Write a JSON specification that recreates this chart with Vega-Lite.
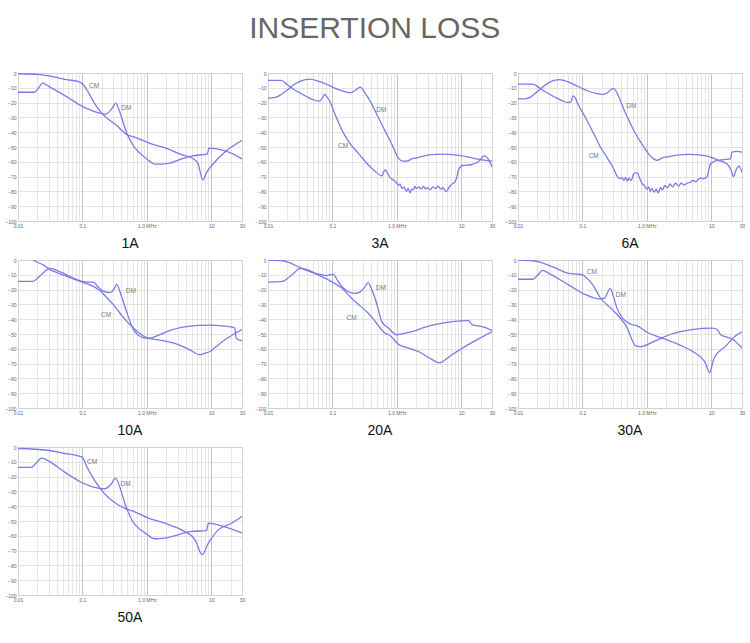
{
"$schema": "https://vega.github.io/schema/vega-lite/v6.json",
"background": "white",
"padding": {"left": 4, "top": 13, "right": 5, "bottom": 5},
"title": {"text": "INSERTION LOSS", "fontSize": 30, "font": "Liberation Sans", "fontWeight": "normal", "color": "#666", "anchor": "middle", "offset": 27},
"config": {"view": {"stroke": "#aaa", "strokeWidth": 1}},
"data": {"values": [
{"p":"1A","s":"CM","f":0.01,"d":-0.5},{"p":"1A","s":"CM","f":0.0216,"d":-1.1},{"p":"1A","s":"CM","f":0.035,"d":-2.5},{"p":"1A","s":"CM","f":0.056,"d":-4.5},{"p":"1A","s":"CM","f":0.085,"d":-5.6},{"p":"1A","s":"CM","f":0.101,"d":-7.4},{"p":"1A","s":"CM","f":0.121,"d":-12.4},{"p":"1A","s":"CM","f":0.153,"d":-20.3},{"p":"1A","s":"CM","f":0.206,"d":-27.8},{"p":"1A","s":"CM","f":0.33,"d":-35},{"p":"1A","s":"CM","f":0.5,"d":-41.8},{"p":"1A","s":"CM","f":0.68,"d":-43.6},{"p":"1A","s":"CM","f":1.09,"d":-47.4},{"p":"1A","s":"CM","f":1.97,"d":-50.8},{"p":"1A","s":"CM","f":3.55,"d":-55.3},{"p":"1A","s":"CM","f":5.1,"d":-57.6},{"p":"1A","s":"CM","f":6.2,"d":-61},{"p":"1A","s":"CM","f":7.4,"d":-72.2},{"p":"1A","s":"CM","f":8.5,"d":-67},{"p":"1A","s":"CM","f":10.4,"d":-62},{"p":"1A","s":"CM","f":16.6,"d":-53},{"p":"1A","s":"CM","f":30,"d":-45.6},
{"p":"1A","s":"DM","f":0.01,"d":-13},{"p":"1A","s":"DM","f":0.018,"d":-13},{"p":"1A","s":"DM","f":0.021,"d":-10},{"p":"1A","s":"DM","f":0.024,"d":-6.8},{"p":"1A","s":"DM","f":0.03,"d":-9},{"p":"1A","s":"DM","f":0.056,"d":-15.8},{"p":"1A","s":"DM","f":0.1,"d":-22.6},{"p":"1A","s":"DM","f":0.18,"d":-27},{"p":"1A","s":"DM","f":0.23,"d":-27.8},{"p":"1A","s":"DM","f":0.29,"d":-23.7},{"p":"1A","s":"DM","f":0.33,"d":-20.3},{"p":"1A","s":"DM","f":0.37,"d":-25},{"p":"1A","s":"DM","f":0.5,"d":-41.8},{"p":"1A","s":"DM","f":0.63,"d":-49.7},{"p":"1A","s":"DM","f":0.97,"d":-57.6},{"p":"1A","s":"DM","f":1.38,"d":-61.6},{"p":"1A","s":"DM","f":2.2,"d":-61},{"p":"1A","s":"DM","f":3.36,"d":-58.2},{"p":"1A","s":"DM","f":5.1,"d":-56},{"p":"1A","s":"DM","f":8.7,"d":-54.6},{"p":"1A","s":"DM","f":9.2,"d":-50.8},{"p":"1A","s":"DM","f":16.6,"d":-52.6},{"p":"1A","s":"DM","f":30,"d":-58},
{"p":"3A","s":"DM","f":0.01,"d":-17},{"p":"3A","s":"DM","f":0.013,"d":-16.5},{"p":"3A","s":"DM","f":0.016,"d":-14.5},{"p":"3A","s":"DM","f":0.02,"d":-11.5},{"p":"3A","s":"DM","f":0.025,"d":-8},{"p":"3A","s":"DM","f":0.03,"d":-6},{"p":"3A","s":"DM","f":0.044,"d":-4.2},{"p":"3A","s":"DM","f":0.06,"d":-5.5},{"p":"3A","s":"DM","f":0.08,"d":-7.5},{"p":"3A","s":"DM","f":0.1,"d":-9.5},{"p":"3A","s":"DM","f":0.13,"d":-11.5},{"p":"3A","s":"DM","f":0.19,"d":-13.4},{"p":"3A","s":"DM","f":0.23,"d":-11.5},{"p":"3A","s":"DM","f":0.27,"d":-9.5},{"p":"3A","s":"DM","f":0.32,"d":-13.5},{"p":"3A","s":"DM","f":0.39,"d":-19.5},{"p":"3A","s":"DM","f":0.49,"d":-28},{"p":"3A","s":"DM","f":0.62,"d":-37},{"p":"3A","s":"DM","f":0.79,"d":-46},{"p":"3A","s":"DM","f":0.94,"d":-53},{"p":"3A","s":"DM","f":1.05,"d":-57.5},{"p":"3A","s":"DM","f":1.25,"d":-59.5},{"p":"3A","s":"DM","f":1.45,"d":-59.5},{"p":"3A","s":"DM","f":1.7,"d":-58},{"p":"3A","s":"DM","f":2.2,"d":-57},{"p":"3A","s":"DM","f":3,"d":-55.5},{"p":"3A","s":"DM","f":5,"d":-54.8},{"p":"3A","s":"DM","f":8,"d":-55.3},{"p":"3A","s":"DM","f":12,"d":-56.5},{"p":"3A","s":"DM","f":20,"d":-58.5},{"p":"3A","s":"DM","f":30,"d":-59.5},
{"p":"3A","s":"CM","f":0.01,"d":-5},{"p":"3A","s":"CM","f":0.016,"d":-5},{"p":"3A","s":"CM","f":0.02,"d":-8},{"p":"3A","s":"CM","f":0.025,"d":-11},{"p":"3A","s":"CM","f":0.03,"d":-13},{"p":"3A","s":"CM","f":0.04,"d":-16},{"p":"3A","s":"CM","f":0.05,"d":-18},{"p":"3A","s":"CM","f":0.062,"d":-19},{"p":"3A","s":"CM","f":0.07,"d":-17},{"p":"3A","s":"CM","f":0.076,"d":-14.5},{"p":"3A","s":"CM","f":0.082,"d":-16},{"p":"3A","s":"CM","f":0.094,"d":-20.5},{"p":"3A","s":"CM","f":0.11,"d":-28},{"p":"3A","s":"CM","f":0.135,"d":-37},{"p":"3A","s":"CM","f":0.16,"d":-43},{"p":"3A","s":"CM","f":0.19,"d":-48},{"p":"3A","s":"CM","f":0.25,"d":-54},{"p":"3A","s":"CM","f":0.35,"d":-61.5},{"p":"3A","s":"CM","f":0.45,"d":-66},{"p":"3A","s":"CM","f":0.59,"d":-69.5},{"p":"3A","s":"CM","f":0.63,"d":-66.5},{"p":"3A","s":"CM","f":0.66,"d":-65.5},{"p":"3A","s":"CM","f":0.7,"d":-67},{"p":"3A","s":"CM","f":0.78,"d":-70.5},{"p":"3A","s":"CM","f":0.89,"d":-72.5},{"p":"3A","s":"CM","f":1.0,"d":-74.5},{"p":"3A","s":"CM","f":1.06,"d":-76},{"p":"3A","s":"CM","f":1.12,"d":-75},{"p":"3A","s":"CM","f":1.2,"d":-78},{"p":"3A","s":"CM","f":1.3,"d":-77},{"p":"3A","s":"CM","f":1.4,"d":-80},{"p":"3A","s":"CM","f":1.5,"d":-78},{"p":"3A","s":"CM","f":1.6,"d":-81},{"p":"3A","s":"CM","f":1.7,"d":-78.5},{"p":"3A","s":"CM","f":1.8,"d":-79},{"p":"3A","s":"CM","f":1.9,"d":-76.5},{"p":"3A","s":"CM","f":2.0,"d":-78},{"p":"3A","s":"CM","f":2.2,"d":-77},{"p":"3A","s":"CM","f":2.4,"d":-78.5},{"p":"3A","s":"CM","f":2.6,"d":-76.5},{"p":"3A","s":"CM","f":2.8,"d":-78.5},{"p":"3A","s":"CM","f":3.0,"d":-77.5},{"p":"3A","s":"CM","f":3.3,"d":-79},{"p":"3A","s":"CM","f":3.6,"d":-77},{"p":"3A","s":"CM","f":4.0,"d":-78},{"p":"3A","s":"CM","f":4.4,"d":-76.5},{"p":"3A","s":"CM","f":4.8,"d":-78.5},{"p":"3A","s":"CM","f":5.2,"d":-77.5},{"p":"3A","s":"CM","f":5.6,"d":-79.5},{"p":"3A","s":"CM","f":5.9,"d":-80},{"p":"3A","s":"CM","f":6.5,"d":-77},{"p":"3A","s":"CM","f":7.2,"d":-75},{"p":"3A","s":"CM","f":8.0,"d":-73.5},{"p":"3A","s":"CM","f":8.6,"d":-70},{"p":"3A","s":"CM","f":9.0,"d":-66},{"p":"3A","s":"CM","f":9.5,"d":-64},{"p":"3A","s":"CM","f":10.3,"d":-62.5},{"p":"3A","s":"CM","f":14,"d":-62},{"p":"3A","s":"CM","f":18.5,"d":-60},{"p":"3A","s":"CM","f":22.6,"d":-56},{"p":"3A","s":"CM","f":27,"d":-59},{"p":"3A","s":"CM","f":30,"d":-63.5},
{"p":"6A","s":"DM","f":0.01,"d":-17.5},{"p":"6A","s":"DM","f":0.013,"d":-17.5},{"p":"6A","s":"DM","f":0.016,"d":-16},{"p":"6A","s":"DM","f":0.02,"d":-12.5},{"p":"6A","s":"DM","f":0.025,"d":-9},{"p":"6A","s":"DM","f":0.03,"d":-6.5},{"p":"6A","s":"DM","f":0.043,"d":-4.5},{"p":"6A","s":"DM","f":0.06,"d":-6},{"p":"6A","s":"DM","f":0.08,"d":-8.5},{"p":"6A","s":"DM","f":0.1,"d":-10.5},{"p":"6A","s":"DM","f":0.13,"d":-12.5},{"p":"6A","s":"DM","f":0.17,"d":-14},{"p":"6A","s":"DM","f":0.21,"d":-14.5},{"p":"6A","s":"DM","f":0.25,"d":-13},{"p":"6A","s":"DM","f":0.28,"d":-11},{"p":"6A","s":"DM","f":0.31,"d":-10.5},{"p":"6A","s":"DM","f":0.34,"d":-13},{"p":"6A","s":"DM","f":0.44,"d":-24.5},{"p":"6A","s":"DM","f":0.63,"d":-39},{"p":"6A","s":"DM","f":0.9,"d":-50},{"p":"6A","s":"DM","f":1.1,"d":-55.5},{"p":"6A","s":"DM","f":1.28,"d":-58},{"p":"6A","s":"DM","f":1.45,"d":-59},{"p":"6A","s":"DM","f":1.7,"d":-57.5},{"p":"6A","s":"DM","f":2.2,"d":-56.5},{"p":"6A","s":"DM","f":3,"d":-55.5},{"p":"6A","s":"DM","f":4.5,"d":-55},{"p":"6A","s":"DM","f":7,"d":-55.5},{"p":"6A","s":"DM","f":10,"d":-57},{"p":"6A","s":"DM","f":13,"d":-59},{"p":"6A","s":"DM","f":17.6,"d":-61.5},{"p":"6A","s":"DM","f":20,"d":-65},{"p":"6A","s":"DM","f":22.3,"d":-70},{"p":"6A","s":"DM","f":24,"d":-66},{"p":"6A","s":"DM","f":26.8,"d":-63},{"p":"6A","s":"DM","f":30,"d":-67},
{"p":"6A","s":"CM","f":0.01,"d":-7.5},{"p":"6A","s":"CM","f":0.017,"d":-7.5},{"p":"6A","s":"CM","f":0.02,"d":-9},{"p":"6A","s":"CM","f":0.025,"d":-12},{"p":"6A","s":"CM","f":0.03,"d":-14},{"p":"6A","s":"CM","f":0.04,"d":-17},{"p":"6A","s":"CM","f":0.05,"d":-19},{"p":"6A","s":"CM","f":0.06,"d":-20},{"p":"6A","s":"CM","f":0.066,"d":-19.5},{"p":"6A","s":"CM","f":0.072,"d":-15.5},{"p":"6A","s":"CM","f":0.078,"d":-17},{"p":"6A","s":"CM","f":0.085,"d":-21},{"p":"6A","s":"CM","f":0.105,"d":-28},{"p":"6A","s":"CM","f":0.15,"d":-41},{"p":"6A","s":"CM","f":0.19,"d":-50},{"p":"6A","s":"CM","f":0.24,"d":-57},{"p":"6A","s":"CM","f":0.3,"d":-64},{"p":"6A","s":"CM","f":0.35,"d":-70},{"p":"6A","s":"CM","f":0.38,"d":-71.5},{"p":"6A","s":"CM","f":0.41,"d":-70.5},{"p":"6A","s":"CM","f":0.44,"d":-72.5},{"p":"6A","s":"CM","f":0.47,"d":-70.5},{"p":"6A","s":"CM","f":0.5,"d":-73},{"p":"6A","s":"CM","f":0.53,"d":-71},{"p":"6A","s":"CM","f":0.56,"d":-72.5},{"p":"6A","s":"CM","f":0.59,"d":-71.5},{"p":"6A","s":"CM","f":0.61,"d":-69},{"p":"6A","s":"CM","f":0.66,"d":-67.5},{"p":"6A","s":"CM","f":0.71,"d":-67.5},{"p":"6A","s":"CM","f":0.78,"d":-71.5},{"p":"6A","s":"CM","f":0.85,"d":-75},{"p":"6A","s":"CM","f":0.92,"d":-76},{"p":"6A","s":"CM","f":1.0,"d":-78.5},{"p":"6A","s":"CM","f":1.07,"d":-77},{"p":"6A","s":"CM","f":1.13,"d":-80},{"p":"6A","s":"CM","f":1.2,"d":-78},{"p":"6A","s":"CM","f":1.3,"d":-80.5},{"p":"6A","s":"CM","f":1.4,"d":-78.5},{"p":"6A","s":"CM","f":1.5,"d":-81},{"p":"6A","s":"CM","f":1.63,"d":-77.5},{"p":"6A","s":"CM","f":1.75,"d":-79},{"p":"6A","s":"CM","f":1.9,"d":-76},{"p":"6A","s":"CM","f":2.07,"d":-77.5},{"p":"6A","s":"CM","f":2.3,"d":-75},{"p":"6A","s":"CM","f":2.5,"d":-77},{"p":"6A","s":"CM","f":2.8,"d":-74.5},{"p":"6A","s":"CM","f":3.1,"d":-76.5},{"p":"6A","s":"CM","f":3.4,"d":-74.5},{"p":"6A","s":"CM","f":3.8,"d":-75.5},{"p":"6A","s":"CM","f":4.2,"d":-74.5},{"p":"6A","s":"CM","f":4.7,"d":-74},{"p":"6A","s":"CM","f":5.2,"d":-72.5},{"p":"6A","s":"CM","f":5.8,"d":-73.5},{"p":"6A","s":"CM","f":6.4,"d":-71.5},{"p":"6A","s":"CM","f":6.8,"d":-71},{"p":"6A","s":"CM","f":7.5,"d":-71.5},{"p":"6A","s":"CM","f":8.6,"d":-70},{"p":"6A","s":"CM","f":9.7,"d":-61.5},{"p":"6A","s":"CM","f":12.3,"d":-59},{"p":"6A","s":"CM","f":16,"d":-58.5},{"p":"6A","s":"CM","f":19.8,"d":-58},{"p":"6A","s":"CM","f":21,"d":-53.5},{"p":"6A","s":"CM","f":25,"d":-53},{"p":"6A","s":"CM","f":30,"d":-53.5},
{"p":"10A","s":"DM","f":0.01,"d":-14.5},{"p":"10A","s":"DM","f":0.017,"d":-14.5},{"p":"10A","s":"DM","f":0.021,"d":-11.5},{"p":"10A","s":"DM","f":0.025,"d":-8.5},{"p":"10A","s":"DM","f":0.031,"d":-5.6},{"p":"10A","s":"DM","f":0.04,"d":-7},{"p":"10A","s":"DM","f":0.057,"d":-10},{"p":"10A","s":"DM","f":0.08,"d":-13},{"p":"10A","s":"DM","f":0.1,"d":-14.5},{"p":"10A","s":"DM","f":0.125,"d":-15},{"p":"10A","s":"DM","f":0.148,"d":-15},{"p":"10A","s":"DM","f":0.17,"d":-17.5},{"p":"10A","s":"DM","f":0.21,"d":-21},{"p":"10A","s":"DM","f":0.27,"d":-22},{"p":"10A","s":"DM","f":0.31,"d":-19.5},{"p":"10A","s":"DM","f":0.34,"d":-16.5},{"p":"10A","s":"DM","f":0.4,"d":-24},{"p":"10A","s":"DM","f":0.485,"d":-35},{"p":"10A","s":"DM","f":0.62,"d":-47},{"p":"10A","s":"DM","f":0.75,"d":-51},{"p":"10A","s":"DM","f":0.88,"d":-52.5},{"p":"10A","s":"DM","f":1.02,"d":-53},{"p":"10A","s":"DM","f":1.3,"d":-52},{"p":"10A","s":"DM","f":2,"d":-48.5},{"p":"10A","s":"DM","f":4.1,"d":-45},{"p":"10A","s":"DM","f":9.4,"d":-44},{"p":"10A","s":"DM","f":15,"d":-44.5},{"p":"10A","s":"DM","f":21.6,"d":-45.5},{"p":"10A","s":"DM","f":23,"d":-46},{"p":"10A","s":"DM","f":24.5,"d":-53},{"p":"10A","s":"DM","f":30,"d":-54.5},
{"p":"10A","s":"CM","f":0.017,"d":0},{"p":"10A","s":"CM","f":0.02,"d":-1.5},{"p":"10A","s":"CM","f":0.025,"d":-3.5},{"p":"10A","s":"CM","f":0.032,"d":-6.7},{"p":"10A","s":"CM","f":0.04,"d":-8.5},{"p":"10A","s":"CM","f":0.057,"d":-11},{"p":"10A","s":"CM","f":0.08,"d":-13.5},{"p":"10A","s":"CM","f":0.117,"d":-16},{"p":"10A","s":"CM","f":0.15,"d":-18},{"p":"10A","s":"CM","f":0.19,"d":-21},{"p":"10A","s":"CM","f":0.24,"d":-25.5},{"p":"10A","s":"CM","f":0.3,"d":-30},{"p":"10A","s":"CM","f":0.4,"d":-37},{"p":"10A","s":"CM","f":0.5,"d":-42},{"p":"10A","s":"CM","f":0.62,"d":-46},{"p":"10A","s":"CM","f":0.8,"d":-50},{"p":"10A","s":"CM","f":0.99,"d":-52.5},{"p":"10A","s":"CM","f":1.5,"d":-54},{"p":"10A","s":"CM","f":2,"d":-55},{"p":"10A","s":"CM","f":3,"d":-57},{"p":"10A","s":"CM","f":4.1,"d":-59.5},{"p":"10A","s":"CM","f":5,"d":-61.5},{"p":"10A","s":"CM","f":6.6,"d":-64},{"p":"10A","s":"CM","f":8,"d":-63},{"p":"10A","s":"CM","f":9.4,"d":-62},{"p":"10A","s":"CM","f":11.9,"d":-58.5},{"p":"10A","s":"CM","f":15,"d":-55},{"p":"10A","s":"CM","f":21.6,"d":-50.5},{"p":"10A","s":"CM","f":30,"d":-47},
{"p":"20A","s":"CM","f":0.01,"d":0},{"p":"20A","s":"CM","f":0.017,"d":-0.5},{"p":"20A","s":"CM","f":0.022,"d":-2},{"p":"20A","s":"CM","f":0.033,"d":-5.6},{"p":"20A","s":"CM","f":0.06,"d":-10},{"p":"20A","s":"CM","f":0.097,"d":-14.6},{"p":"20A","s":"CM","f":0.14,"d":-19},{"p":"20A","s":"CM","f":0.2,"d":-26},{"p":"20A","s":"CM","f":0.27,"d":-31},{"p":"20A","s":"CM","f":0.36,"d":-36},{"p":"20A","s":"CM","f":0.5,"d":-43.5},{"p":"20A","s":"CM","f":0.6,"d":-48},{"p":"20A","s":"CM","f":0.66,"d":-49.5},{"p":"20A","s":"CM","f":0.75,"d":-50.5},{"p":"20A","s":"CM","f":0.83,"d":-52},{"p":"20A","s":"CM","f":1.06,"d":-57},{"p":"20A","s":"CM","f":1.5,"d":-59.5},{"p":"20A","s":"CM","f":2.2,"d":-62},{"p":"20A","s":"CM","f":3,"d":-65.5},{"p":"20A","s":"CM","f":3.96,"d":-68.5},{"p":"20A","s":"CM","f":4.5,"d":-69.5},{"p":"20A","s":"CM","f":5,"d":-69},{"p":"20A","s":"CM","f":6,"d":-66.5},{"p":"20A","s":"CM","f":7.2,"d":-64},{"p":"20A","s":"CM","f":10,"d":-60},{"p":"20A","s":"CM","f":13,"d":-57},{"p":"20A","s":"CM","f":20,"d":-52.5},{"p":"20A","s":"CM","f":30,"d":-48.5},
{"p":"20A","s":"DM","f":0.01,"d":-15},{"p":"20A","s":"DM","f":0.017,"d":-14.5},{"p":"20A","s":"DM","f":0.02,"d":-12.5},{"p":"20A","s":"DM","f":0.025,"d":-9},{"p":"20A","s":"DM","f":0.03,"d":-6},{"p":"20A","s":"DM","f":0.033,"d":-5.6},{"p":"20A","s":"DM","f":0.04,"d":-6.5},{"p":"20A","s":"DM","f":0.06,"d":-9.5},{"p":"20A","s":"DM","f":0.08,"d":-10.5},{"p":"20A","s":"DM","f":0.103,"d":-9.7},{"p":"20A","s":"DM","f":0.11,"d":-11},{"p":"20A","s":"DM","f":0.123,"d":-14.6},{"p":"20A","s":"DM","f":0.157,"d":-20},{"p":"20A","s":"DM","f":0.19,"d":-22},{"p":"20A","s":"DM","f":0.22,"d":-22.5},{"p":"20A","s":"DM","f":0.27,"d":-21.5},{"p":"20A","s":"DM","f":0.31,"d":-19},{"p":"20A","s":"DM","f":0.36,"d":-15.3},{"p":"20A","s":"DM","f":0.39,"d":-18},{"p":"20A","s":"DM","f":0.46,"d":-26},{"p":"20A","s":"DM","f":0.52,"d":-34},{"p":"20A","s":"DM","f":0.58,"d":-41.5},{"p":"20A","s":"DM","f":0.74,"d":-46},{"p":"20A","s":"DM","f":1.0,"d":-50.5},{"p":"20A","s":"DM","f":1.35,"d":-49.4},{"p":"20A","s":"DM","f":2,"d":-47.5},{"p":"20A","s":"DM","f":2.76,"d":-45.4},{"p":"20A","s":"DM","f":4,"d":-43.5},{"p":"20A","s":"DM","f":7.2,"d":-41.6},{"p":"20A","s":"DM","f":13,"d":-41},{"p":"20A","s":"DM","f":14.8,"d":-43.8},{"p":"20A","s":"DM","f":21,"d":-45},{"p":"20A","s":"DM","f":30,"d":-47.5},
{"p":"30A","s":"CM","f":0.01,"d":0},{"p":"30A","s":"CM","f":0.017,"d":-0.5},{"p":"30A","s":"CM","f":0.022,"d":-1.5},{"p":"30A","s":"CM","f":0.034,"d":-4.5},{"p":"30A","s":"CM","f":0.062,"d":-9},{"p":"30A","s":"CM","f":0.08,"d":-9.5},{"p":"30A","s":"CM","f":0.1,"d":-10},{"p":"30A","s":"CM","f":0.108,"d":-11},{"p":"30A","s":"CM","f":0.146,"d":-17},{"p":"30A","s":"CM","f":0.186,"d":-25},{"p":"30A","s":"CM","f":0.3,"d":-34},{"p":"30A","s":"CM","f":0.49,"d":-45.5},{"p":"30A","s":"CM","f":0.67,"d":-58},{"p":"30A","s":"CM","f":0.8,"d":-58.5},{"p":"30A","s":"CM","f":1.3,"d":-55},{"p":"30A","s":"CM","f":2.4,"d":-50},{"p":"30A","s":"CM","f":5,"d":-47},{"p":"30A","s":"CM","f":10.4,"d":-46},{"p":"30A","s":"CM","f":12.4,"d":-47},{"p":"30A","s":"CM","f":14,"d":-50.5},{"p":"30A","s":"CM","f":21.5,"d":-53.5},{"p":"30A","s":"CM","f":30,"d":-59.5},
{"p":"30A","s":"DM","f":0.01,"d":-13},{"p":"30A","s":"DM","f":0.017,"d":-13},{"p":"30A","s":"DM","f":0.02,"d":-10.5},{"p":"30A","s":"DM","f":0.024,"d":-7},{"p":"30A","s":"DM","f":0.03,"d":-9},{"p":"30A","s":"DM","f":0.062,"d":-17},{"p":"30A","s":"DM","f":0.107,"d":-23},{"p":"30A","s":"DM","f":0.186,"d":-26.3},{"p":"30A","s":"DM","f":0.22,"d":-25.8},{"p":"30A","s":"DM","f":0.27,"d":-19.4},{"p":"30A","s":"DM","f":0.3,"d":-24},{"p":"30A","s":"DM","f":0.34,"d":-32},{"p":"30A","s":"DM","f":0.41,"d":-38.8},{"p":"30A","s":"DM","f":0.56,"d":-43.4},{"p":"30A","s":"DM","f":0.71,"d":-44.5},{"p":"30A","s":"DM","f":1.02,"d":-49},{"p":"30A","s":"DM","f":1.66,"d":-52.5},{"p":"30A","s":"DM","f":3.07,"d":-57},{"p":"30A","s":"DM","f":5,"d":-61.5},{"p":"30A","s":"DM","f":8.1,"d":-69.5},{"p":"30A","s":"DM","f":9.4,"d":-76},{"p":"30A","s":"DM","f":11,"d":-66.5},{"p":"30A","s":"DM","f":16.9,"d":-58},{"p":"30A","s":"DM","f":24.3,"d":-51},{"p":"30A","s":"DM","f":30,"d":-48.5},
{"p":"50A","s":"CM","f":0.01,"d":-1},{"p":"50A","s":"CM","f":0.029,"d":-2.2},{"p":"50A","s":"CM","f":0.053,"d":-4.4},{"p":"50A","s":"CM","f":0.086,"d":-6},{"p":"50A","s":"CM","f":0.1,"d":-7},{"p":"50A","s":"CM","f":0.115,"d":-12.7},{"p":"50A","s":"CM","f":0.155,"d":-22.7},{"p":"50A","s":"CM","f":0.22,"d":-31.5},{"p":"50A","s":"CM","f":0.455,"d":-41.5},{"p":"50A","s":"CM","f":0.65,"d":-43.8},{"p":"50A","s":"CM","f":1.05,"d":-48},{"p":"50A","s":"CM","f":1.9,"d":-51.5},{"p":"50A","s":"CM","f":3.46,"d":-56},{"p":"50A","s":"CM","f":5.6,"d":-62.7},{"p":"50A","s":"CM","f":7.2,"d":-72.7},{"p":"50A","s":"CM","f":9,"d":-65},{"p":"50A","s":"CM","f":12.9,"d":-56},{"p":"50A","s":"CM","f":20.7,"d":-51.5},{"p":"50A","s":"CM","f":30,"d":-47},
{"p":"50A","s":"DM","f":0.01,"d":-13.8},{"p":"50A","s":"DM","f":0.016,"d":-13.8},{"p":"50A","s":"DM","f":0.02,"d":-10},{"p":"50A","s":"DM","f":0.023,"d":-7.5},{"p":"50A","s":"DM","f":0.03,"d":-9.5},{"p":"50A","s":"DM","f":0.053,"d":-17},{"p":"50A","s":"DM","f":0.096,"d":-23.8},{"p":"50A","s":"DM","f":0.175,"d":-27.8},{"p":"50A","s":"DM","f":0.22,"d":-28.2},{"p":"50A","s":"DM","f":0.28,"d":-25},{"p":"50A","s":"DM","f":0.326,"d":-21},{"p":"50A","s":"DM","f":0.38,"d":-27},{"p":"50A","s":"DM","f":0.455,"d":-38},{"p":"50A","s":"DM","f":0.58,"d":-49},{"p":"50A","s":"DM","f":0.93,"d":-58},{"p":"50A","s":"DM","f":1.33,"d":-62},{"p":"50A","s":"DM","f":1.9,"d":-61.5},{"p":"50A","s":"DM","f":3.07,"d":-59.3},{"p":"50A","s":"DM","f":4.9,"d":-57},{"p":"50A","s":"DM","f":8.45,"d":-56.5},{"p":"50A","s":"DM","f":9,"d":-51.5},{"p":"50A","s":"DM","f":16.3,"d":-54},{"p":"50A","s":"DM","f":30,"d":-58},
{"p":"1A","t":"CM","f":0.127,"d":-9},{"p":"1A","t":"DM","f":0.4,"d":-23.7},
{"p":"3A","t":"DM","f":0.48,"d":-25},{"p":"3A","t":"CM","f":0.122,"d":-49},
{"p":"6A","t":"DM","f":0.48,"d":-22},{"p":"6A","t":"CM","f":0.125,"d":-56},
{"p":"10A","t":"DM","f":0.47,"d":-21},{"p":"10A","t":"CM","f":0.195,"d":-37},
{"p":"20A","t":"DM","f":0.47,"d":-19},{"p":"20A","t":"CM","f":0.165,"d":-39},
{"p":"30A","t":"CM","f":0.117,"d":-8},{"p":"30A","t":"DM","f":0.33,"d":-23.5},
{"p":"50A","t":"CM","f":0.118,"d":-10},{"p":"50A","t":"DM","f":0.39,"d":-25}
]},
"facet": {"field": "p", "type": "nominal", "sort": ["1A","3A","6A","10A","20A","30A","50A"],
  "header": {"title": null, "labelOrient": "bottom", "labelFontSize": 14, "labelFont": "Liberation Sans", "labelColor": "#111", "labelPadding": 9}},
"columns": 3,
"spacing": {"column": 26, "row": 39},
"bounds": "flush",
"resolve": {"axis": {"x": "independent", "y": "independent"}},
"spec": {
  "width": 224,
  "height": 148,
  "encoding": {
    "x": {"field": "f", "type": "quantitative", "scale": {"type": "log", "domain": [0.01, 30]},
      "axis": {"values": [0.01,0.02,0.03,0.04,0.05,0.06,0.07,0.08,0.09,0.1,0.2,0.3,0.4,0.5,0.6,0.7,0.8,0.9,1,2,3,4,5,6,7,8,9,10,20,30],
        "labelExpr": "datum.value==0.01?'0.01':datum.value==0.1?'0.1':datum.value==1?'1.0  MHz':datum.value==10?'10':datum.value==30?'30':''",
        "labelFontSize": 5, "labelColor": "#666", "labelPadding": 2, "ticks": false, "domain": false, "title": null, "labelOverlap": false, "labelFlush": false,
        "gridColor": {"condition": {"test": "datum.value==0.1||datum.value==1||datum.value==10", "value": "#b5b5b5"}, "value": "#e0e0e0"}, "gridWidth": 0.8}},
    "y": {"field": "d", "type": "quantitative", "scale": {"domain": [-100, 0]},
      "axis": {"values": [0,-10,-20,-30,-40,-50,-60,-70,-80,-90,-100], "labelFontSize": 5, "labelColor": "#666", "labelPadding": 2, "ticks": false, "domain": false, "title": null, "gridColor": "#dcdcdc", "gridWidth": 0.8}}
  },
  "layer": [
    {"transform": [{"filter": "isValid(datum.s)"}], "mark": {"type": "line", "color": "#7b7be8", "strokeWidth": 1.3, "clip": true, "interpolate": "monotone"}, "encoding": {"detail": {"field": "s"}}},
    {"transform": [{"filter": "isValid(datum.t)"}], "mark": {"type": "text", "fontSize": 6.5, "color": "#777", "align": "left", "font": "Liberation Sans"}, "encoding": {"text": {"field": "t"}}}
  ]
}
}
